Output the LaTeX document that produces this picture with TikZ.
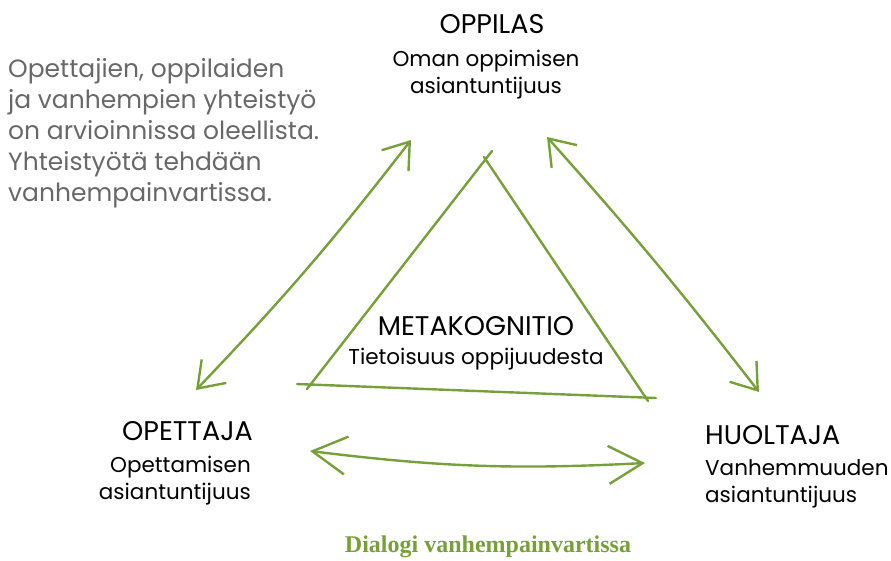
\documentclass[tikz,border=0pt]{standalone}
\usepackage{fontspec}
\setmainfont{Poppins}
\newfontfamily\capfont{Liberation Serif}
\usetikzlibrary{arrows.meta}
\definecolor{leafgreen}{RGB}{119,160,58}
\definecolor{notegray}{RGB}{104,104,104}

\begin{document}
\begin{tikzpicture}[x=1pt,y=-1pt,
    head/.style={inner sep=0pt, font=\fontsize{27}{30}\selectfont},
    sub/.style={inner sep=0pt, font=\fontsize{21.5}{28}\selectfont},
    note/.style={inner sep=0pt, text=notegray, align=left,
      font=\fontsize{25}{31}\selectfont},
    side/.style={leafgreen, line width=2.4pt, line cap=round},
    link/.style={side, {Straight Barb[length=24pt,width=34pt]}-{Straight Barb[length=24pt,width=34pt]}},
    talk/.style={side, {Straight Barb[length=34pt,width=38pt]}-{Straight Barb[length=34pt,width=38pt]}}]
    % page frame
    \useasboundingbox (0,0) rectangle (891,560);

    % note on the left
    \node[note, anchor=north west] (note) at (8,58)
      {Opettajien, oppilaiden\\ja vanhempien yhteistyö\\on arvioinnissa oleellista.\\Yhteistyötä tehdään\\vanhempainvartissa.};

    % the three parties
    \node[head, anchor=base] (oppilas) at (492,33) {OPPILAS};
    \node[sub, anchor=base] (oppilas1) at (486,66) {Oman oppimisen};
    \node[sub, anchor=base] (oppilas2) at (486,93) {asiantuntijuus};

    \node[head, anchor=base east] (opettaja) at (253,440) {OPETTAJA};
    \node[sub, anchor=base east] (opettaja1) at (251,472) {Opettamisen};
    \node[sub, anchor=base east] (opettaja2) at (251,499) {asiantuntijuus};

    \node[head, anchor=base west] (huoltaja) at (705,444) {HUOLTAJA};
    \node[sub, anchor=base west] (huoltaja1) at (705,475) {Vanhemmuuden};
    \node[sub, anchor=base west] (huoltaja2) at (705,502) {asiantuntijuus};

    % middle
    \node[head, anchor=base] (meta) at (476,335) {METAKOGNITIO};
    \node[sub, anchor=base] (meta1) at (476,364) {Tietoisuus oppijuudesta};

    % triangle, drawn with crossing ends
    \coordinate (apexL) at (492,151);
    \coordinate (apexR) at (484,157);
    \coordinate (baseL) at (307,389);
    \coordinate (baseR) at (648,401);
    \coordinate (baseL0) at (297,384);
    \coordinate (baseR0) at (656,398);
    \draw[side] (baseL) -- (apexL);
    \draw[side] (apexR) -- (baseR);
    \draw[side] (baseL0) -- (baseR0);

    % arrows between the parties
    \coordinate (tipOpettaja) at (196,390);
    \coordinate (tipOppilasL) at (411,140);
    \coordinate (tipOppilasR) at (547,137);
    \coordinate (tipHuoltaja) at (759,392);
    \coordinate (tipLeft) at (310,451);
    \coordinate (tipRight) at (645,463);
    \draw[link] (tipOpettaja) to[bend right=3] (tipOppilasL);
    \draw[link] (tipOppilasR) to[bend left=2] (tipHuoltaja);
    \draw[talk] (tipLeft) to[bend right=5] (tipRight);

    % caption
    \node[inner sep=0pt, text=leafgreen, font=\capfont\bfseries\fontsize{24}{28}\selectfont] (caption) at (488,547) {Dialogi vanhempainvartissa};
\end{tikzpicture}
\end{document}
